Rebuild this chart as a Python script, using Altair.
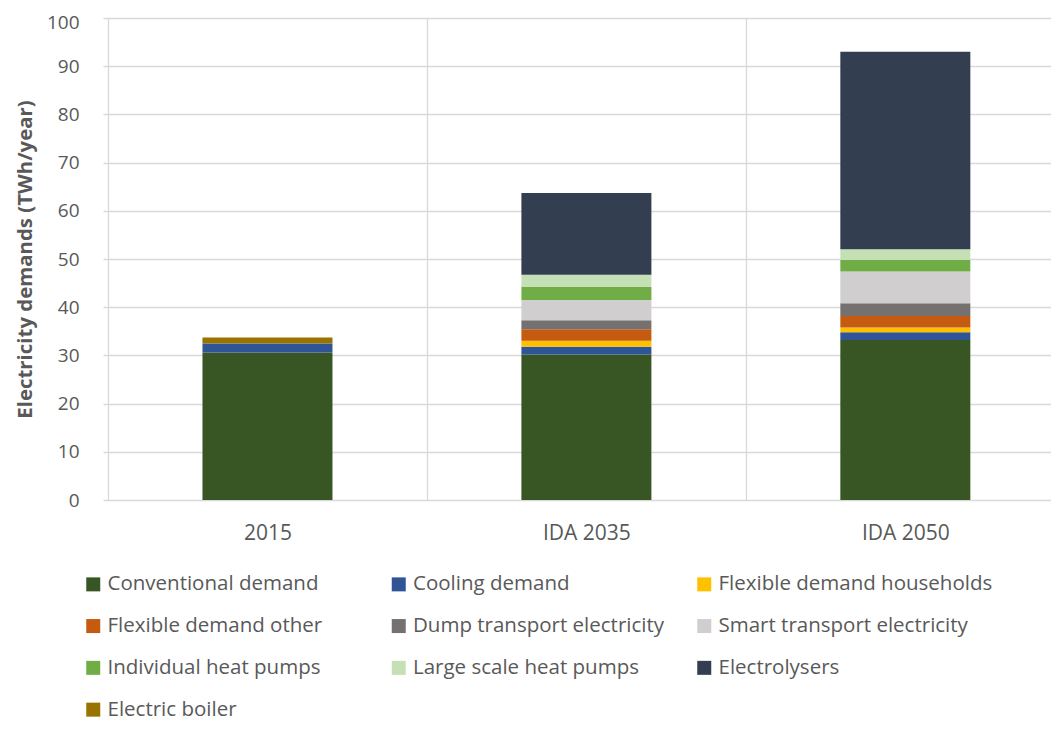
import altair as alt
import pandas as pd

scenarios = ["2015", "IDA 2035", "IDA 2050"]
components = [
    "Conventional demand", "Cooling demand", "Flexible demand households",
    "Flexible demand other", "Dump transport electricity", "Smart transport electricity",
    "Individual heat pumps", "Large scale heat pumps", "Electrolysers", "Electric boiler",
]
colors = ["#375623", "#2F5597", "#FFC000", "#C55A11", "#767171",
          "#D0CECE", "#70AD47", "#C5E0B4", "#333F50", "#997300"]

conventional = [30.6, 30.2, 33.2]
cooling = [1.85, 1.6, 1.6]
flex_households = [0.0, 1.25, 1.0]
flex_other = [0.0, 2.35, 2.4]
dump_transport = [0.0, 1.9, 2.6]
smart_transport = [0.0, 4.2, 6.6]
individual_hp = [0.0, 2.7, 2.4]
large_hp = [0.0, 2.55, 2.2]
electrolysers = [0.0, 16.95, 41.0]
electric_boiler = [1.25, 0.0, 0.0]

series = [conventional, cooling, flex_households, flex_other, dump_transport,
          smart_transport, individual_hp, large_hp, electrolysers, electric_boiler]

rows = []
for i, (name, vals) in enumerate(zip(components, series)):
    for k, (s, v) in enumerate(zip(scenarios, vals)):
        rows.append({"scenario": s, "pos": k + 0.5, "component": name, "value": v, "order": i})
df = pd.DataFrame(rows)

FONT = "Open Sans"
GREY = "#595959"

PLOT_W = 948      # visible plot width (reference is cropped at the right edge)
FULL_W = 967      # width the three categories would occupy uncropped
x_max = len(scenarios) * PLOT_W / FULL_W

tick_vals = []
for k in range(len(scenarios)):
    tick_vals += [k, k + 0.5]
label_expr = "".join(
    f"datum.value == {k + 0.5} ? '{s}' : " for k, s in enumerate(scenarios)
) + "''"

chart = alt.Chart(df).mark_bar(size=130).encode(
    x=alt.X("pos:Q",
            scale=alt.Scale(domain=[0, x_max], nice=False, zero=False),
            axis=alt.Axis(title=None, values=tick_vals, labelExpr=label_expr,
                          labelAngle=0, labelFont=FONT, labelFontSize=21,
                          labelColor=GREY, labelPadding=22, ticks=False, domain=False,
                          labelFlush=False, labelOverlap=False,
                          grid=True, gridColor="#D9D9D9", gridWidth=1.3,
                          gridOpacity={"condition": {"test": "datum.value % 1 != 0", "value": 0},
                                       "value": 1})),
    y=alt.Y("value:Q", stack="zero",
            scale=alt.Scale(domain=[0, 100], nice=False),
            axis=alt.Axis(title="Electricity demands (TWh/year)", values=list(range(0, 101, 10)),
                          labelFont=FONT, labelFontSize=19, labelColor=GREY, labelPadding=24,
                          labelOffset={"condition": {"test": "datum.value == 100", "value": 4},
                                       "value": 0},
                          titleFont=FONT, titleFontSize=20.4, titleFontWeight="bold",
                          titleColor=GREY, titlePadding=11, ticks=False, domain=False,
                          grid=True, gridColor="#D9D9D9", gridWidth=1.3)),
    color=alt.Color("component:N",
                    scale=alt.Scale(domain=components, range=colors),
                    legend=alt.Legend(orient="none", legendX=-20, legendY=556, columns=3,
                                      direction="horizontal",
                                      title=None, symbolType="square", symbolSize=196,
                                      symbolStrokeWidth=0, symbolOpacity=1,
                                      labelFont=FONT, labelFontSize=20.5, labelColor=GREY,
                                      labelOffset=4, rowPadding=20.8, columnPadding=6.5,
                                      gridAlign="all", labelLimit=400)),
    order=alt.Order("order:Q", sort="ascending"),
).properties(
    width=PLOT_W, height=482,
    autosize=alt.AutoSizeParams(type="none"),
    padding={"left": 95, "top": 10, "right": 0, "bottom": 221},
).configure_view(stroke=None)

chart.save("out.html", embed_options={"renderer": "svg", "actions": False})
